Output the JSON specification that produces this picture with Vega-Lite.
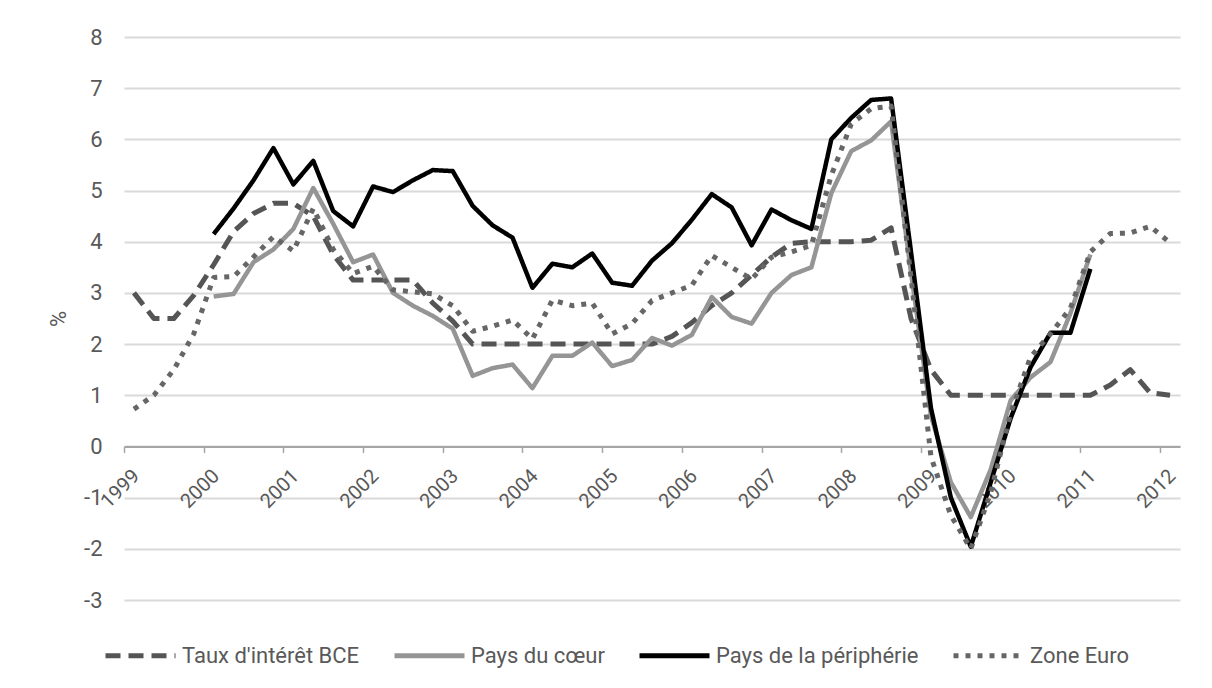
{
  "$schema": "https://vega.github.io/schema/vega-lite/v6.json",
  "width": 1056,
  "height": 563,
  "autosize": {"type": "none"},
  "padding": {"left": 124, "top": 37, "right": 32, "bottom": 88},
  "background": "white",
  "config": {"font": "Roboto", "view": {"stroke": null}},
  "data": {"values": [
    {"t": 1999.125, "bce": 3.0, "ze": 0.73},
    {"t": 1999.375, "bce": 2.5, "ze": 1.0},
    {"t": 1999.625, "bce": 2.5, "ze": 1.5},
    {"t": 1999.875, "bce": 2.95, "ze": 2.2},
    {"t": 2000.125, "bce": 3.55, "coeur": 2.93, "peri": 4.15, "ze": 3.3},
    {"t": 2000.375, "bce": 4.2, "coeur": 2.98, "peri": 4.65, "ze": 3.32},
    {"t": 2000.625, "bce": 4.55, "coeur": 3.6, "peri": 5.2, "ze": 3.7},
    {"t": 2000.875, "bce": 4.75, "coeur": 3.85, "peri": 5.83, "ze": 4.1},
    {"t": 2001.125, "bce": 4.75, "coeur": 4.25, "peri": 5.12, "ze": 3.82},
    {"t": 2001.375, "bce": 4.5, "coeur": 5.05, "peri": 5.58, "ze": 4.65},
    {"t": 2001.625, "bce": 3.75, "coeur": 4.35, "peri": 4.6, "ze": 3.85},
    {"t": 2001.875, "bce": 3.25, "coeur": 3.6, "peri": 4.3, "ze": 3.38},
    {"t": 2002.125, "bce": 3.25, "coeur": 3.75, "peri": 5.08, "ze": 3.52},
    {"t": 2002.375, "bce": 3.25, "coeur": 3.0, "peri": 4.97, "ze": 3.06},
    {"t": 2002.625, "bce": 3.25, "coeur": 2.75, "peri": 5.2, "ze": 3.02},
    {"t": 2002.875, "bce": 2.8, "coeur": 2.55, "peri": 5.4, "ze": 2.98},
    {"t": 2003.125, "bce": 2.45, "coeur": 2.3, "peri": 5.38, "ze": 2.75},
    {"t": 2003.375, "bce": 2.0, "coeur": 1.38, "peri": 4.7, "ze": 2.25},
    {"t": 2003.625, "bce": 2.0, "coeur": 1.53, "peri": 4.32, "ze": 2.35},
    {"t": 2003.875, "bce": 2.0, "coeur": 1.6, "peri": 4.08, "ze": 2.47},
    {"t": 2004.125, "bce": 2.0, "coeur": 1.14, "peri": 3.1, "ze": 2.1},
    {"t": 2004.375, "bce": 2.0, "coeur": 1.77, "peri": 3.57, "ze": 2.86},
    {"t": 2004.625, "bce": 2.0, "coeur": 1.77, "peri": 3.5, "ze": 2.75},
    {"t": 2004.875, "bce": 2.0, "coeur": 2.03, "peri": 3.77, "ze": 2.8},
    {"t": 2005.125, "bce": 2.0, "coeur": 1.57, "peri": 3.2, "ze": 2.2},
    {"t": 2005.375, "bce": 2.0, "coeur": 1.69, "peri": 3.14, "ze": 2.4},
    {"t": 2005.625, "bce": 2.0, "coeur": 2.12, "peri": 3.63, "ze": 2.85},
    {"t": 2005.875, "bce": 2.15, "coeur": 1.97, "peri": 3.97, "ze": 3.0},
    {"t": 2006.125, "bce": 2.42, "coeur": 2.18, "peri": 4.43, "ze": 3.15},
    {"t": 2006.375, "bce": 2.75, "coeur": 2.92, "peri": 4.93, "ze": 3.73},
    {"t": 2006.625, "bce": 3.0, "coeur": 2.53, "peri": 4.67, "ze": 3.5},
    {"t": 2006.875, "bce": 3.35, "coeur": 2.4, "peri": 3.93, "ze": 3.27},
    {"t": 2007.125, "bce": 3.7, "coeur": 3.0, "peri": 4.63, "ze": 3.7},
    {"t": 2007.375, "bce": 3.97, "coeur": 3.35, "peri": 4.42, "ze": 3.8},
    {"t": 2007.625, "bce": 4.0, "coeur": 3.5, "peri": 4.25, "ze": 3.93},
    {"t": 2007.875, "bce": 4.0, "coeur": 4.95, "peri": 6.0, "ze": 5.3},
    {"t": 2008.125, "bce": 4.0, "coeur": 5.77, "peri": 6.42, "ze": 6.3},
    {"t": 2008.375, "bce": 4.03, "coeur": 5.98, "peri": 6.77, "ze": 6.6},
    {"t": 2008.625, "bce": 4.27, "coeur": 6.35, "peri": 6.8, "ze": 6.65},
    {"t": 2008.875, "bce": 2.5, "coeur": 3.4, "peri": 3.8, "ze": 3.3},
    {"t": 2009.125, "bce": 1.5, "coeur": 0.6, "peri": 0.75, "ze": -0.2},
    {"t": 2009.375, "bce": 1.0, "coeur": -0.7, "peri": -1.0, "ze": -1.35},
    {"t": 2009.625, "bce": 1.0, "coeur": -1.38, "peri": -1.96, "ze": -2.0},
    {"t": 2009.875, "bce": 1.0, "coeur": -0.45, "peri": -0.7, "ze": -0.9},
    {"t": 2010.125, "bce": 1.0, "coeur": 0.9, "peri": 0.55, "ze": 0.65},
    {"t": 2010.375, "bce": 1.0, "coeur": 1.35, "peri": 1.55, "ze": 1.75},
    {"t": 2010.625, "bce": 1.0, "coeur": 1.65, "peri": 2.22, "ze": 2.2},
    {"t": 2010.875, "bce": 1.0, "coeur": 2.6, "peri": 2.22, "ze": 2.7},
    {"t": 2011.125, "bce": 1.0, "coeur": 3.75, "peri": 3.47, "ze": 3.8},
    {"t": 2011.375, "bce": 1.2, "ze": 4.16},
    {"t": 2011.625, "bce": 1.5, "ze": 4.17},
    {"t": 2011.875, "bce": 1.05, "ze": 4.3},
    {"t": 2012.125, "bce": 1.0, "ze": 3.98}
  ]},
  "transform": [{"fold": ["bce", "coeur", "peri", "ze"], "as": ["series", "value"]}],
  "encoding": {
    "x": {
      "field": "t", "type": "quantitative",
      "scale": {"domain": [1999, 2012.25], "nice": false, "zero": false},
      "axis": {
        "title": null,
        "values": [1999, 2000, 2001, 2002, 2003, 2004, 2005, 2006, 2007, 2008, 2009, 2010, 2011, 2012],
        "format": "d", "grid": false, "offset": -153.5,
        "domainColor": "#a6a6a6", "domainWidth": 2,
        "tickColor": "#a6a6a6", "tickWidth": 1.5, "tickSize": 6,
        "labelAngle": -45, "labelAlign": "center", "labelBaseline": "middle",
        "labelPadding": 36, "labelOffset": -4, "labelFontSize": 20, "labelColor": "#595959",
        "labelOverlap": false, "labelFlush": false, "labelBound": false
      }
    },
    "y": {
      "field": "value", "type": "quantitative",
      "scale": {"domain": [-3, 8], "nice": false, "zero": false},
      "axis": {
        "title": "%", "values": [-3, -2, -1, 0, 1, 2, 3, 4, 5, 6, 7, 8],
        "labelExpr": "'' + datum.value",
        "grid": true, "gridColor": "#d9d9d9", "gridWidth": 2,
        "domain": false, "ticks": false, "labelPadding": 22,
        "labelFontSize": 22, "labelColor": "#595959",
        "titleFontSize": 22, "titleFontWeight": "normal", "titleColor": "#595959",
        "titleX": -66, "titleY": 281.5, "titleAlign": "center", "titleBaseline": "middle", "titleAngle": -90
      }
    },
    "color": {
      "field": "series", "type": "nominal",
      "scale": {"domain": ["bce", "coeur", "peri", "ze"], "range": ["#555555", "#959595", "#000000", "#666666"]},
      "legend": {
        "orient": "none", "legendX": -21, "legendY": 581, "direction": "horizontal", "columns": 4,
        "title": null, "symbolType": "stroke", "symbolSize": 4900, "symbolStrokeWidth": 5,
        "labelFontSize": 22, "labelColor": "#595959", "labelOffset": 4, "columnPadding": 24,
        "labelLimit": 400,
        "labelExpr": "datum.value == 'bce' ? \"Taux d'intérêt BCE\" : datum.value == 'coeur' ? 'Pays du cœur' : datum.value == 'peri' ? 'Pays de la périphérie' : 'Zone Euro'"
      }
    },
    "strokeDash": {
      "field": "series", "type": "nominal",
      "scale": {"domain": ["bce", "coeur", "peri", "ze"], "range": [[15, 8], [1, 0], [1, 0], [5, 7]]}
    }
  },
  "layer": [
    {"transform": [{"filter": "datum.series == 'bce'"}], "mark": {"type": "line", "strokeWidth": 5, "strokeJoin": "round"}},
    {"transform": [{"filter": "datum.series == 'coeur'"}], "mark": {"type": "line", "strokeWidth": 4.5, "strokeJoin": "round"}},
    {"transform": [{"filter": "datum.series == 'peri'"}], "mark": {"type": "line", "strokeWidth": 4.5, "strokeJoin": "round"}},
    {"transform": [{"filter": "datum.series == 'ze'"}], "mark": {"type": "line", "strokeWidth": 5, "strokeJoin": "round"}}
  ]
}
